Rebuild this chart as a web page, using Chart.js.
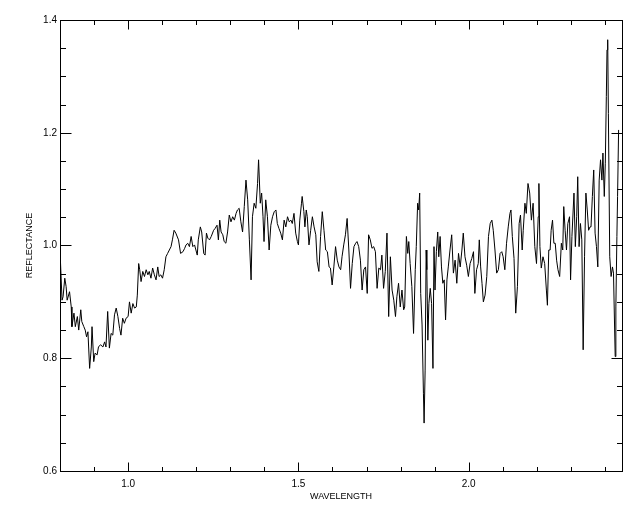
<!DOCTYPE html>
<html>
<head>
<meta charset="utf-8">
<script src="https://cdn.jsdelivr.net/npm/chart.js@4.4.1/dist/chart.umd.min.js"></script>
<style>
  html, body { margin: 0; padding: 0; background: #fff; }
  #wrap { width: 640px; height: 512px; }
</style>
</head>
<body>
<div id="wrap"><canvas id="spec" width="640" height="512"></canvas></div>
<script>
/* spectrum, ~2px steps */
const wavelength = [
  0.801,0.806,0.809,0.814,0.818,0.821,0.828,0.833,0.835,0.841,
  0.845,0.851,0.855,0.861,0.864,0.870,0.874,0.878,0.882,0.887,
  0.892,0.894,0.899,0.903,0.909,0.913,0.919,0.926,0.931,0.935,
  0.940,0.945,0.950,0.955,0.960,0.965,0.970,0.975,0.979,0.984,
  0.989,0.994,1.000,1.004,1.009,1.014,1.019,1.024,1.027,1.031,
  1.034,1.038,1.043,1.048,1.053,1.058,1.062,1.067,1.072,1.077,
  1.082,1.087,1.091,1.096,1.101,1.106,1.111,1.116,1.121,1.126,
  1.130,1.135,1.140,
  1.148,1.154,1.161,1.166,1.170,1.175,1.180,1.185,1.190,1.195,
  1.203,1.206,1.212,1.216,1.222,1.226,1.230,1.234,1.239,1.244,
  1.251,1.255,1.261,1.265,1.269,1.273,1.278,1.282,1.287,1.292,
  1.297,1.302,1.307,1.312,1.317,1.321,1.326,1.331,1.336,1.341,
  1.346,1.351,1.356,1.361,1.365,1.370,1.375,1.380,1.383,1.388,
  1.392,1.396,1.399,1.404,1.409,1.414,1.419,1.424,1.429,1.434,
  1.438,1.443,1.448,1.453,1.458,1.463,1.468,1.473,
  1.478,1.482,1.487,1.492,1.497,1.500,1.504,1.509,1.511,1.516,
  1.519,1.523,1.526,1.531,1.536,1.541,1.546,1.551,1.555,1.560,
  1.565,1.570,1.575,1.580,1.585,1.590,1.594,1.599,1.604,1.609,
  1.614,1.619,1.624,1.628,1.633,1.638,1.643,1.648,1.653,1.658,
  1.663,1.668,1.672,1.677,1.682,1.687,1.692,1.697,1.702,1.706,
  1.711,1.716,1.721,1.726,1.731,1.736,1.741,1.745,1.750,1.755,
  1.760,1.765,1.770,1.775,1.780,1.785,1.789,1.794,1.799,1.804,
  1.809,
  1.812,1.817,1.821,1.824,1.828,1.833,1.838,1.843,1.846,1.850,
  1.853,1.856,1.859,1.863,1.867,1.869,1.872,1.875,1.877,1.880,
  1.883,1.887,1.891,1.895,1.898,1.901,1.905,1.909,1.912,1.916,
  1.920,1.924,1.928,1.932,1.936,1.940,1.945,1.950,1.955,1.960,
  1.965,1.970,1.975,1.980,1.984,1.989,1.994,1.999,2.004,2.009,
  2.014,2.018,2.023,2.028,2.031,2.035,2.039,2.043,2.048,2.053,
  2.058,2.063,2.068,2.072,2.077,2.082,2.087,2.092,2.097,2.101,
  2.106,2.111,2.116,2.121,2.124,2.128,2.133,2.138,2.143,2.148,
  2.152,2.157,
  2.160,2.165,2.169,2.174,2.179,2.184,2.189,2.194,2.199,2.204,
  2.206,2.209,2.213,2.218,2.223,2.228,2.231,2.235,2.239,2.242,
  2.246,2.250,2.254,2.258,2.262,2.267,2.272,2.276,2.279,2.283,
  2.287,2.291,2.296,2.299,2.303,2.309,2.313,2.317,2.320,2.324,
  2.328,2.332,2.336,2.340,2.344,2.348,2.352,2.356,2.359,2.363,
  2.367,2.371,2.375,2.379,2.383,2.387,2.391,2.394,2.398,2.401,
  2.404,2.406,2.408,2.410,2.414,2.418,2.422,2.425,2.430,2.432,
  2.435,2.437,2.440
];
const reflectance = [
  0.977,0.903,0.909,0.942,0.927,0.903,0.918,0.891,0.856,0.880,
  0.856,0.874,0.850,0.886,0.865,0.856,0.850,0.838,0.847,0.782,
  0.820,0.856,0.794,0.809,0.806,0.820,0.824,0.820,0.829,0.820,
  0.883,0.818,0.844,0.841,0.877,0.889,0.874,0.853,0.841,0.871,
  0.862,0.871,0.874,0.900,0.880,0.897,0.889,0.891,0.912,0.968,
  0.957,0.936,0.954,0.945,0.957,0.948,0.954,0.942,0.960,0.948,
  0.939,0.962,0.945,0.948,0.942,0.957,0.980,0.986,0.992,0.998,
  1.010,1.027,1.022,
  1.010,0.986,0.989,0.995,1.001,1.004,0.998,1.016,0.998,1.001,
  0.983,1.010,1.033,1.024,0.986,0.983,1.022,1.013,1.010,1.016,
  1.027,1.030,1.036,1.010,1.045,1.024,1.019,1.007,1.004,1.024,
  1.054,1.042,1.051,1.045,1.057,1.063,1.066,1.042,1.024,1.069,
  1.116,1.081,1.010,0.939,1.051,1.075,1.066,1.110,1.152,1.075,
  1.093,1.051,1.007,1.081,1.051,0.992,1.036,1.051,1.060,1.063,
  1.039,1.030,1.022,1.010,1.045,1.033,1.051,1.042,
  1.045,1.039,1.057,1.022,1.007,1.001,1.045,1.075,1.087,1.060,
  1.033,1.063,1.051,1.001,1.027,1.051,1.033,1.019,0.971,0.954,
  1.016,1.060,1.027,0.992,0.989,0.962,0.960,0.930,0.962,0.998,
  0.974,0.962,0.957,0.980,1.001,1.019,1.048,0.992,0.924,0.968,
  0.998,1.004,1.007,0.998,0.974,0.921,0.957,0.962,0.915,1.019,
  1.010,0.995,0.998,0.989,0.924,0.960,0.957,0.983,0.924,0.954,
  1.022,0.874,0.980,0.921,0.903,0.874,0.909,0.933,0.891,0.921,
  0.886,
  0.891,1.016,0.986,1.007,0.968,0.927,0.844,0.957,0.998,1.075,
  1.063,1.093,0.915,0.859,0.738,0.685,0.779,0.992,0.957,0.832,
  0.897,0.924,0.897,0.782,0.998,0.921,0.989,1.024,0.980,1.016,
  0.962,0.933,0.939,0.868,0.939,0.962,0.992,1.019,0.951,0.974,
  0.933,0.986,0.962,0.992,1.022,0.980,0.965,0.945,0.968,0.977,
  0.989,0.915,0.957,0.968,1.010,0.962,0.933,0.900,0.912,0.945,
  1.016,1.039,1.045,1.027,0.992,0.951,0.957,0.986,0.989,0.980,
  0.957,1.004,1.033,1.057,1.063,1.016,0.977,0.880,0.927,1.039,
  1.054,0.992,
  1.027,1.075,1.057,1.110,1.093,1.045,1.075,0.998,0.968,1.051,
  1.110,0.998,0.960,0.980,0.968,0.921,0.894,0.992,0.992,1.027,
  1.045,1.004,1.004,0.974,0.957,0.945,1.004,0.992,1.069,1.027,
  0.992,1.039,1.051,0.939,1.016,1.093,0.998,1.051,1.122,0.998,
  1.039,1.010,0.815,0.980,1.093,1.063,1.027,1.033,1.033,1.087,
  1.134,1.022,0.998,0.962,1.116,1.152,1.116,1.164,1.087,1.146,
  1.264,1.347,1.365,1.234,0.980,0.945,0.962,0.951,0.803,0.891,
  1.016,1.087,1.205
];

const xLabels = [1.0, 1.5, 2.0];
const xMinor = [0.9, 1.0, 1.1, 1.2, 1.3, 1.4, 1.5, 1.6, 1.7, 1.8, 1.9, 2.0, 2.1, 2.2, 2.3, 2.4];
const yLabels = [0.6, 0.8, 1.0, 1.2, 1.4];
const yMinor = [0.65, 0.7, 0.75, 0.8, 0.85, 0.9, 0.95, 1.0, 1.05, 1.1, 1.15, 1.2, 1.25, 1.3, 1.35];

const isMajor = (list, v) => list.some(m => Math.abs(m - v) < 1e-6);

// box frame + inward ticks on all four sides (IDL look)
const frameTicks = {
  id: 'frameTicks',
  afterDraw(chart) {
    const { ctx, chartArea: a, scales: { x, y } } = chart;
    ctx.save();
    ctx.strokeStyle = '#000';
    ctx.lineWidth = 1;
    ctx.strokeRect(a.left + 0.5, a.top + 0.5, a.right - a.left, a.bottom - a.top);
    ctx.beginPath();
    xMinor.forEach(v => {
      const px = Math.round(x.getPixelForValue(v)) + 0.5;
      const len = isMajor(xLabels, v) ? 9 : 4.5;
      ctx.moveTo(px, a.bottom + 0.5); ctx.lineTo(px, a.bottom + 0.5 - len);
      ctx.moveTo(px, a.top + 0.5);    ctx.lineTo(px, a.top + 0.5 + len);
    });
    yMinor.forEach(v => {
      const py = Math.round(y.getPixelForValue(v)) + 0.5;
      const len = isMajor(yLabels, v) ? 11 : 5.5;
      ctx.moveTo(a.left + 0.5, py);  ctx.lineTo(a.left + 0.5 + len, py);
      ctx.moveTo(a.right + 0.5, py); ctx.lineTo(a.right + 0.5 - len, py);
    });
    ctx.stroke();
    ctx.restore();
  }
};

const tickFont = { family: '"Liberation Sans", Arial, sans-serif', size: 10 };
const titleFont = { family: '"Liberation Sans", Arial, sans-serif', size: 9 };

new Chart(document.getElementById('spec'), {
  type: 'line',
  data: {
    datasets: [{
      data: wavelength.map((w, i) => ({ x: w, y: reflectance[i] })),
      borderColor: '#000',
      borderWidth: 1,
      pointRadius: 0,
      tension: 0,
      fill: false
    }]
  },
  options: {
    responsive: false,
    animation: false,
    devicePixelRatio: 1,
    layout: { padding: { top: 20, right: 18, left: 0, bottom: 0 } },
    plugins: { legend: { display: false }, tooltip: { enabled: false } },
    scales: {
      x: {
        type: 'linear', min: 0.8, max: 2.45,
        grid: { display: false, drawTicks: false },
        border: { display: false },
        afterBuildTicks: s => { s.ticks = xLabels.map(v => ({ value: v })); },
        afterFit: s => { s.height = 41; },
        ticks: { color: '#000', font: tickFont, padding: 7, maxRotation: 0, autoSkip: false,
                 callback: v => v.toFixed(1) },
        title: { display: true, text: 'WAVELENGTH', color: '#000', font: titleFont,
                 padding: { top: 0, bottom: 10 } }
      },
      y: {
        type: 'linear', min: 0.6, max: 1.4,
        grid: { display: false, drawTicks: false },
        border: { display: false },
        afterBuildTicks: s => { s.ticks = yLabels.map(v => ({ value: v })); },
        afterFit: s => { s.width = 60; },
        ticks: { color: '#000', font: tickFont, padding: 3, autoSkip: false,
                 callback: v => v.toFixed(1) },
        title: { display: true, text: 'REFLECTANCE', color: '#000', font: titleFont,
                 padding: { top: 24, bottom: 0 } }
      }
    }
  },
  plugins: [frameTicks]
});
</script>
</body>
</html>
